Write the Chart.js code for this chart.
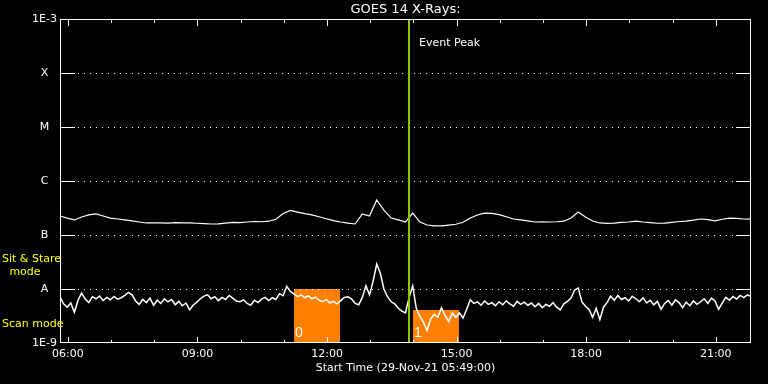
<!DOCTYPE html>
<html>
<head>
<meta charset="utf-8">
<script src="https://cdn.jsdelivr.net/npm/chart.js@4.4.1/dist/chart.umd.min.js"></script>
<style>
  html, body { margin: 0; padding: 0; background: #000; }
  #wrap { width: 768px; height: 384px; }
</style>
</head>
<body>
<div id="wrap"><canvas id="xrayChart"></canvas></div>
<script>
// time axis in hours of the day, start 05:49
const startHour = 5 + 49 / 60;
const endHour = startHour + 16;
const longStep = 10 / 60;
const shortStep = 5 / 60;

const yTickValues = [1, 10, 100, 1000, 1e4, 1e5, 1e6];
const yTickLabels = ['1E-9', 'A', 'B', 'C', 'M', 'X', '1E-3'];
const xTickValues = [6, 9, 12, 15, 18, 21];
const xTickLabels = ['06:00', '09:00', '12:00', '15:00', '18:00', '21:00'];
const hourTicks = [6, 7, 8, 9, 10, 11, 12, 13, 14, 15, 16, 17, 18, 19, 20, 21];

// flux in units of 1e-9 W/m^2, long channel every 10 min
const longFlux = [
  225, 206, 190, 215, 235, 245, 225, 206, 198, 190,
  182, 174, 167, 167, 168, 166, 170, 167, 167, 165,
  162, 160, 161, 166, 172, 170, 174, 178, 176, 180,
  196, 250, 285, 265, 248, 236, 218, 200, 184, 174,
  166, 160, 245, 225, 445, 290, 206, 190, 174, 255,
  174, 153, 147, 147, 152, 158, 172, 206, 235, 255,
  252, 238, 218, 198, 190, 182, 174, 176, 174, 176,
  180, 206, 267, 215, 182, 167, 164, 166, 172, 174,
  180, 174, 170, 165, 166, 172, 178, 180, 188, 198,
  192, 182, 196, 206, 204, 198, 196
];

// short channel every 5 min
const shortFlux = [
  7.1, 5.3, 4.6, 5.5, 3.7, 6.2, 8.4, 6.5, 5.6, 7.2,
  6.6, 7.4, 6.1, 7.0, 6.3, 7.3, 6.5, 6.9, 7.6, 8.6,
  7.8, 6.0, 5.2, 6.4, 5.6, 6.8, 5.0, 6.2, 5.4, 6.6,
  5.8, 6.4, 5.1, 5.9, 4.9, 5.5, 4.1, 5.0, 5.7, 6.6,
  7.4, 7.8, 6.6, 7.2, 6.1, 7.0, 6.4, 7.6, 6.8, 6.0,
  5.8, 6.3, 5.4, 5.0, 6.2, 5.6, 6.5, 7.0, 6.1, 6.9,
  6.4, 8.2, 7.5, 11.2, 9.0, 8.1, 7.2, 7.8, 6.9, 7.5,
  6.6, 7.1, 6.2, 5.8, 6.4, 5.5, 5.9, 5.3, 6.1, 7.0,
  7.2, 6.6, 5.4, 5.1, 7.0, 11.5, 7.8, 14.0, 29, 19.5,
  10.0, 7.2, 5.8, 5.3, 4.4, 3.9, 3.6, 7.0, 11.4, 4.4,
  3.1, 2.4, 1.7, 2.8, 3.4, 3.0, 4.5, 3.2, 2.5, 3.6,
  3.0, 3.6, 2.9, 4.2, 6.3, 5.4, 5.8, 5.0, 6.0, 5.2,
  5.6, 4.9, 5.8, 5.1, 6.0, 5.3, 4.8, 5.9, 5.2, 5.7,
  5.0, 5.5, 4.7, 5.4, 4.5, 5.2, 4.8, 5.6, 4.6, 4.1,
  5.3, 5.9, 6.8, 9.6, 10.4, 5.8, 4.8, 4.2, 3.0, 4.4,
  2.7, 4.6, 5.6, 7.4, 6.2, 7.6, 6.4, 6.9, 6.0, 7.3,
  6.6, 5.8, 6.9, 5.5, 6.2, 5.1, 5.9, 4.2, 5.4, 6.1,
  5.0, 6.3, 5.6, 4.5, 5.7, 4.9, 6.0, 5.2, 5.8, 6.6,
  5.4, 6.8, 6.0, 4.2, 5.5, 7.0, 6.2, 7.3, 6.5, 7.6,
  6.9, 7.8, 7.2
];

// scan-mode intervals (hours) and their upper flux level
const scanStart = [11.23, 14.0];
const scanEnd = [12.29, 15.06];
const scanTop = [10, 4.1];
const scanLabels = ['0', '1'];
const eventPeak = 13.9;

const txtFont = { family: 'DejaVu Sans', size: 11, weight: 'normal' };

const goesFrame = {
  id: 'goesFrame',
  beforeDatasetsDraw(chart) {
    const { ctx, chartArea: a, scales: { x, y } } = chart;
    ctx.save();
    ctx.fillStyle = '#ff8000';
    scanStart.forEach((t, i) => {
      const x0 = Math.round(x.getPixelForValue(t));
      const x1 = Math.round(x.getPixelForValue(scanEnd[i]));
      const y0 = Math.round(y.getPixelForValue(scanTop[i]));
      ctx.fillRect(x0, y0, x1 - x0, a.bottom - y0);
    });
    ctx.fillStyle = '#fff';
    ctx.font = '14px "Liberation Sans"';
    ctx.textBaseline = 'middle';
    ctx.textAlign = 'left';
    scanStart.forEach((t, i) => {
      ctx.fillText(scanLabels[i], Math.round(x.getPixelForValue(t)) + 1, a.bottom - 10);
    });
    // dotted level lines
    yTickValues.slice(1, -1).forEach(v => {
      const py = Math.round(y.getPixelForValue(v));
      for (let px = a.left + 18; px < a.right - 17; px += 6) ctx.fillRect(px, py, 1, 1);
    });
    ctx.restore();
  },
  afterDatasetsDraw(chart) {
    const { ctx, chartArea: a, scales: { x, y } } = chart;
    ctx.save();
    // event peak line
    const ex = Math.round(x.getPixelForValue(eventPeak));
    ctx.fillStyle = '#8cc800';
    ctx.fillRect(ex - 1, a.top + 1, 2, a.height - 2);

    ctx.fillStyle = '#fff';
    // frame
    ctx.fillRect(a.left, a.top, a.width, 1);
    ctx.fillRect(a.left, a.bottom - 1, a.width, 1);
    ctx.fillRect(a.left, a.top, 1, a.height);
    ctx.fillRect(a.right - 1, a.top, 1, a.height);
    // level ticks
    yTickValues.slice(1, -1).forEach(v => {
      const py = Math.round(y.getPixelForValue(v));
      ctx.fillRect(a.left, py, 15, 1);
      ctx.fillRect(a.right - 15, py, 15, 1);
    });
    // hour ticks, top and bottom
    hourTicks.forEach(h => {
      const px = Math.round(x.getPixelForValue(h));
      const major = xTickValues.includes(h);
      ctx.fillRect(px, a.bottom - (major ? 6 : 3), 1, major ? 6 : 3);
      ctx.fillRect(px, a.top, 1, major ? 7 : 4);
    });

    ctx.font = '11px "DejaVu Sans"';
    ctx.textBaseline = 'middle';
    ctx.textAlign = 'left';
    ctx.fillText('Event Peak', ex + 10, 43);

    ctx.fillStyle = '#ffff00';
    ctx.fillText('Sit & Stare', 2, 259);
    ctx.fillText('Scan mode', 2, 324);
    ctx.textAlign = 'center';
    ctx.fillText('mode', 25, 272);
    ctx.restore();
  }
};

new Chart(document.getElementById('xrayChart'), {
  type: 'line',
  data: {
    datasets: [{
      data: longFlux.map((v, i) => ({ x: startHour + i * longStep, y: v })),
      borderColor: '#ffffff',
      borderWidth: 1.2,
      pointRadius: 0,
      tension: 0
    }, {
      data: shortFlux.map((v, i) => ({ x: startHour + i * shortStep, y: v })),
      borderColor: '#ffffff',
      borderWidth: 1.5,
      pointRadius: 0,
      tension: 0
    }]
  },
  options: {
    responsive: true,
    maintainAspectRatio: false,
    animation: false,
    layout: { padding: { left: 0, right: 17, top: 0, bottom: 0 } },
    plugins: {
      legend: { display: false },
      tooltip: { enabled: false },
      title: {
        display: true,
        text: 'GOES 14 X-Rays:',
        color: '#ffffff',
        fullSize: false,
        font: { family: 'DejaVu Sans', size: 13, weight: 'normal' },
        padding: { top: 2, bottom: 1.4 }
      }
    },
    scales: {
      x: {
        type: 'linear',
        min: startHour,
        max: endHour,
        afterBuildTicks: s => { s.ticks = xTickValues.map(v => ({ value: v })); },
        afterFit: s => { s.height = 41; },
        ticks: {
          color: '#ffffff',
          font: txtFont,
          padding: 5,
          maxRotation: 0,
          autoSkip: false,
          callback: (v, i) => xTickLabels[i]
        },
        grid: { display: false, drawTicks: false },
        border: { display: false },
        title: {
          display: true,
          text: 'Start Time (29-Nov-21 05:49:00)',
          color: '#ffffff',
          font: txtFont,
          padding: { top: 0, bottom: 9 }
        }
      },
      y: {
        type: 'logarithmic',
        min: 1,
        max: 1e6,
        afterBuildTicks: s => { s.ticks = yTickValues.map(v => ({ value: v })); },
        afterFit: s => { s.width = 60; },
        ticks: {
          color: '#ffffff',
          font: txtFont,
          padding: 3,
          crossAlign: 'center',
          autoSkip: false,
          callback: (v, i) => yTickLabels[i]
        },
        grid: { display: false, drawTicks: false },
        border: { display: false }
      }
    }
  },
  plugins: [goesFrame]
});
</script>
</body>
</html>
